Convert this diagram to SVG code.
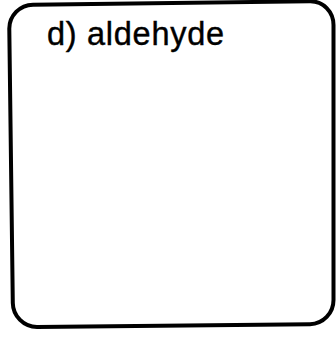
<svg xmlns="http://www.w3.org/2000/svg" width="336" height="337" viewBox="0 0 336 337">
<style>
.frame{fill:none;stroke:#000;stroke-width:4;stroke-linejoin:round}
.label{font-family:"Liberation Sans",Arial,Helvetica,sans-serif;font-size:32.5px;fill:#000;stroke:#000;stroke-width:0.4}
</style>
<rect width="336" height="337" fill="#fff"/>
<g id="panel">
<path class="frame" d="M33,4.7 L310,1.3 C323.2,1.1 333.5,11.8 333.5,25 L333.5,300 C333.5,313.2 323.2,324 310,324.2 L37,327 C23.8,327 13,316.2 12.8,303 L9.3,29 C9.1,15.8 19.8,4.9 33,4.7 Z"/>
<text class="label" x="47" y="45" textLength="177" lengthAdjust="spacing">d) aldehyde</text>
</g>
</svg>
